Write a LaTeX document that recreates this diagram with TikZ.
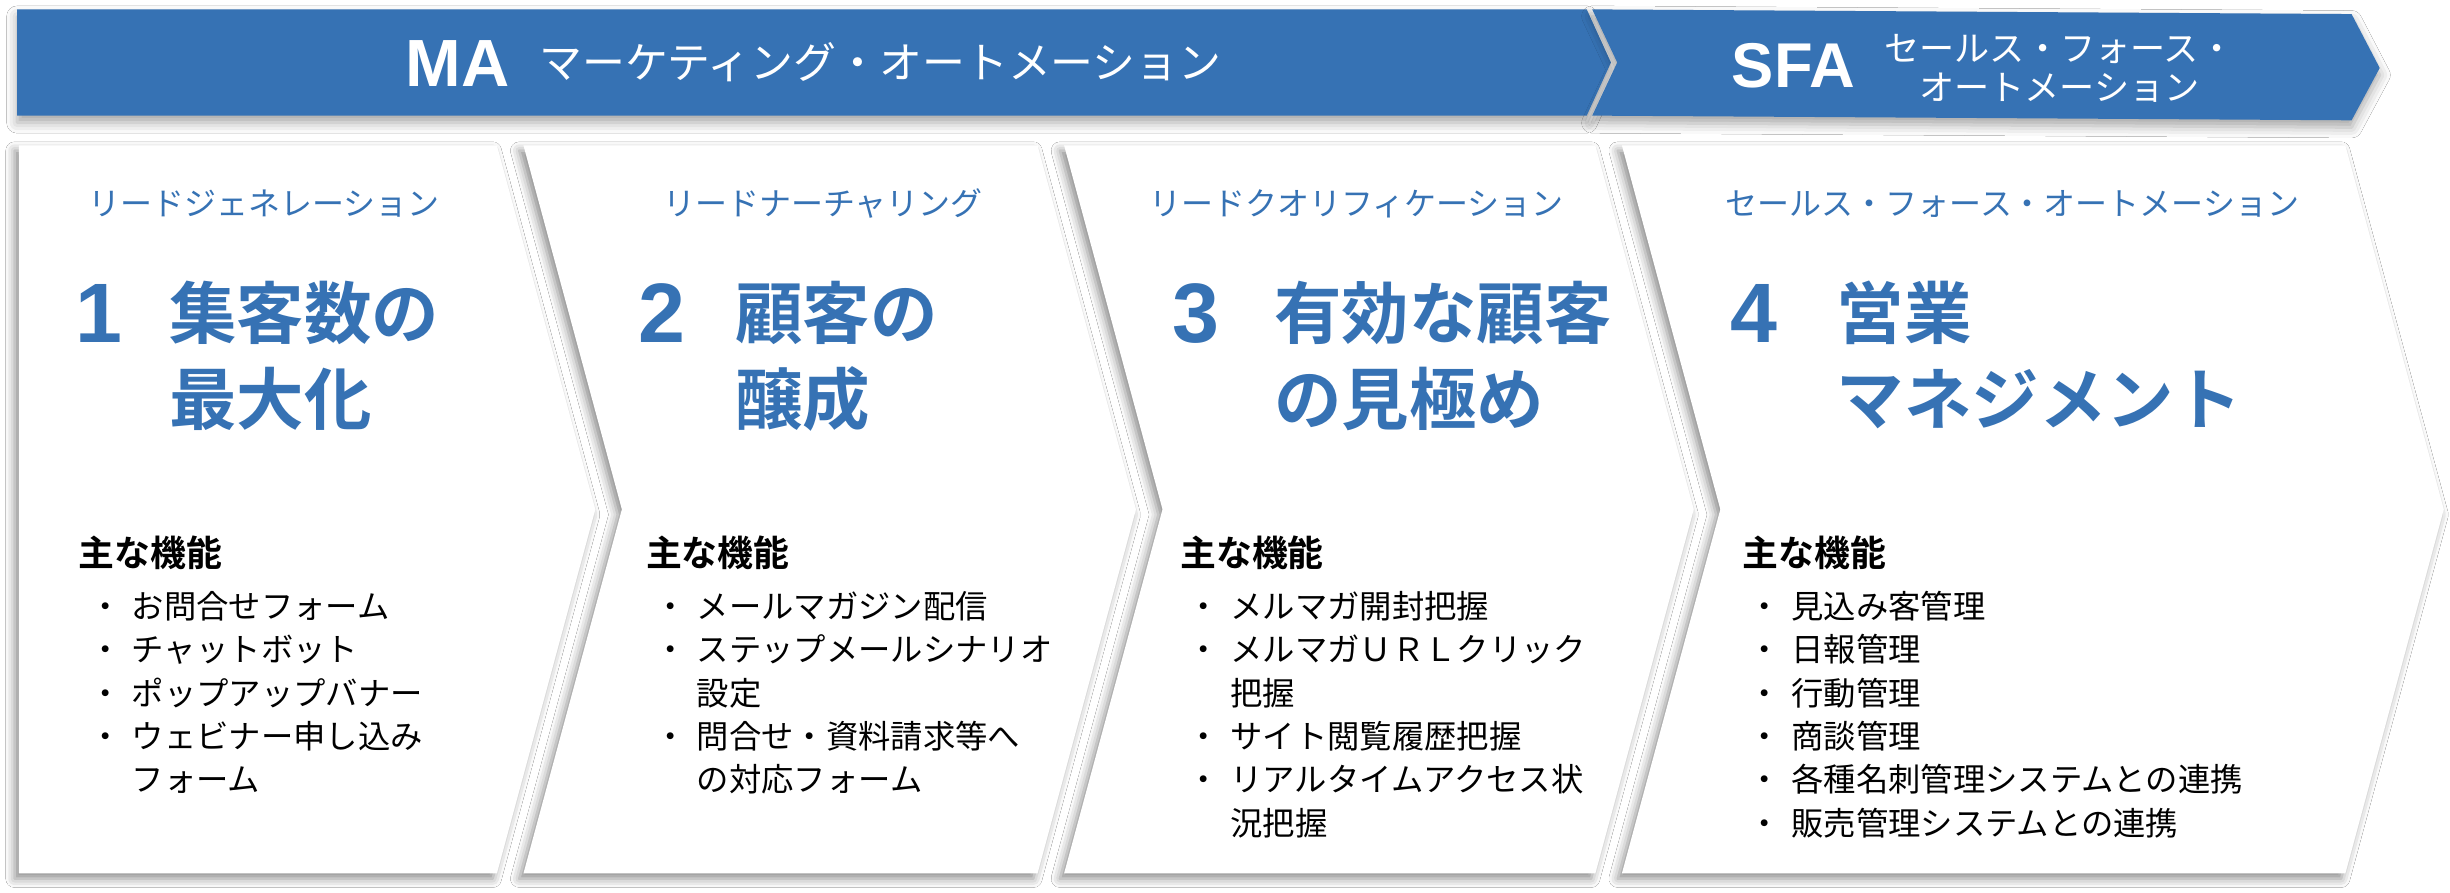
\documentclass[tikz,border=0pt]{standalone}
\usepackage{fontspec}
\setmainfont{Noto Sans CJK JP}[BoldFont={Noto Sans CJK JP Bold}]
\newfontfamily\latinsf{Liberation Sans}
\usepackage{tikz}
\usetikzlibrary{positioning,shadows.blur}
\definecolor{mablue}{HTML}{3672B4}
\tikzstyle{panel} = [fill=white, blur shadow={shadow xshift=-1.2pt, shadow yshift=-1.5pt, shadow blur radius=2.5pt, shadow opacity=45}]
\tikzstyle{band} = [fill=mablue, blur shadow={shadow xshift=0pt, shadow yshift=-2pt, shadow blur radius=3pt, shadow opacity=35}]
\newcommand{\bul}{\llap{・\hspace{3pt}}}

\begin{document}
\begin{tikzpicture}[x=0.015625cm, y=-0.015625cm,
    sub/.style = {anchor=base west, inner sep=0, text=mablue, font=\fontsize{9.1}{10}\selectfont},
    num/.style = {anchor=base west, inner sep=0, text=mablue, font=\latinsf\bfseries\fontsize{24}{26}\selectfont},
    ttl/.style = {anchor=base west, inner sep=0, text=mablue, font=\bfseries\fontsize{19.2}{22}\selectfont},
    head/.style = {anchor=base west, inner sep=0, font=\bfseries\fontsize{10.2}{12}\selectfont},
    item/.style = {anchor=base west, inner sep=0, font=\fontsize{9.2}{11}\selectfont},
    wtxt/.style = {inner sep=0, text=white}]
    \useasboundingbox (0,0) rectangle (1568,571.5);
    \fill[white] (0,0) rectangle (1568,571.5);

    % banner
    \fill[band] (11,6) -- (1015.5,6) -- (1031,40) -- (1015.5,74) -- (11,74) -- cycle;
    \fill[band] (1019,6) -- (1505,9) -- (1523,43.5) -- (1505,77) -- (1019,74) -- (1035,40) -- cycle;
    \node[wtxt, anchor=base west, font=\latinsf\bfseries\fontsize{19}{20}\selectfont] (ma) at (259,55.5) {MA};
    \node[wtxt, anchor=base west, font=\fontsize{12.2}{14}\selectfont] (maname) at (345,50.5) {マーケティング・オートメーション};
    \node[wtxt, anchor=base west, font=\latinsf\bfseries\fontsize{18}{20}\selectfont] (sfa) at (1108,56) {SFA};
    \node[wtxt, align=center, font=\fontsize{10}{11.1}\selectfont] (sfaname) at (1318,43.5) {セールス・フォース・\\オートメーション};

    % panels
    \fill[panel] (12,93) -- (318,93) -- (381,326) -- (318,559) -- (12,559) -- cycle;
    \foreach \l/\r in {335/664, 681/1021, 1038/1501}
        \fill[panel] (\l,93) -- (\r,93) -- (\r+63,326) -- (\r,559) -- (\l,559) -- (\l+63,326) -- cycle;

    % 1
    \node[sub] (p1sub) at (56,137.7) {リードジェネレーション};
    \node[num] (p1num) at (48,219.3) {1};
    \node[ttl] (p1ttl) at (108,216.4) {集客数の};
    \node[ttl] (p1ttlb) at (108,271.4) {最大化};
    \node[head] (p1head) at (50,362.7) {主な機能};
    \foreach \t [count=\i] in {\bul お問合せフォーム, \bul チャットボット, \bul ポップアップバナー, \bul ウェビナー申し込み, フォーム}
        \node[item] (p1item\i) at (84,{395.9+27.7*(\i-1)}) {\t};

    % 2
    \node[sub] (p2sub) at (424,137.7) {リードナーチャリング};
    \node[num] (p2num) at (408,219.3) {2};
    \node[ttl] (p2ttl) at (470,216.4) {顧客の};
    \node[ttl] (p2ttlb) at (470,271.4) {醸成};
    \node[head] (p2head) at (413,362.7) {主な機能};
    \foreach \t [count=\i] in {\bul メールマガジン配信, \bul ステップメールシナリオ, 設定, \bul 問合せ・資料請求等へ, の対応フォーム}
        \node[item] (p2item\i) at (445.6,{395.9+27.7*(\i-1)}) {\t};

    % 3
    \node[sub] (p3sub) at (735,137.7) {リードクオリフィケーション};
    \node[num] (p3num) at (750,219.3) {3};
    \node[ttl] (p3ttl) at (815,216.4) {有効な顧客};
    \node[ttl] (p3ttlb) at (815,271.4) {の見極め};
    \node[head] (p3head) at (755,362.7) {主な機能};
    \foreach \t [count=\i] in {\bul メルマガ開封把握, \bul メルマガＵＲＬクリック, 把握, \bul サイト閲覧履歴把握, \bul リアルタイムアクセス状, 況把握}
        \node[item] (p3item\i) at (787,{395.9+27.7*(\i-1)}) {\t};

    % 4
    \node[sub] (p4sub) at (1104,137.7) {セールス・フォース・オートメーション};
    \node[num] (p4num) at (1107,219.3) {4};
    \node[ttl] (p4ttl) at (1175,216.4) {営業};
    \node[ttl] (p4ttlb) at (1175,271.4) {マネジメント};
    \node[head] (p4head) at (1115,362.7) {主な機能};
    \foreach \t [count=\i] in {\bul 見込み客管理, \bul 日報管理, \bul 行動管理, \bul 商談管理, \bul 各種名刺管理システムとの連携, \bul 販売管理システムとの連携}
        \node[item] (p4item\i) at (1146,{395.9+27.7*(\i-1)}) {\t};
\end{tikzpicture}
\end{document}
